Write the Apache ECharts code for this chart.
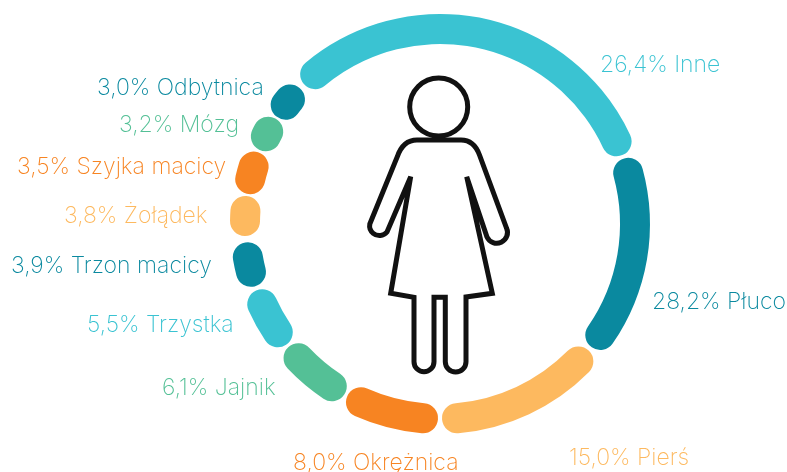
<!DOCTYPE html>
<html><head><meta charset="utf-8">
<style>html,body{margin:0;padding:0;background:#fff}#c{width:787px;height:472px}</style>
<script src="https://cdn.jsdelivr.net/npm/echarts@6/dist/echarts.min.js"></script>
</head><body><div id="c"></div>
<script>
const categories = ['Inne','Płuco','Pierś','Okrężnica','Jajnik','Trzystka','Trzon macicy','Żołądek','Szyjka macicy','Mózg','Odbytnica'];
const percentLabels = ['26,4%','28,2%','15,0%','8,0%','6,1%','5,5%','3,9%','3,8%','3,5%','3,2%','3,0%'];
// The arcs in the picture are not proportional to the printed percentages: sweep and gap read in degrees
const arcSweep = [104.7,49.9,40.2,18.9,12.8,9.4,4.4,2.9,3.8,1.5,2.0];
const arcGap = [9.9,10.1,10,9.8,9.8,10.1,10.7,9.5,9.65,9.45,0];
const colors = ['#3AC3D2','#0A899F','#FDB95F','#F78422','#54C096','#3AC3D2','#0A899F','#FDB95F','#F78422','#54C096','#0A899F'];
const labelAnchors = [[600,65],[652,302],[569,458],[293,463],[162,388],[87,325],[11,266],[64,216],[17,167],[119,125],[97,88]];

const bodyPath = 'M410.7 176.7 L387 232 A9.8 9.8 0 0 1 369.8 224 L397.3 156.7 Q403 140 417 140 L461 140 Q474 140 479.5 155 L506.5 228 A10 10 0 0 1 487 237 L466.7 176.7 L492.3 293.3 L466 297 L466 361.7 A10.3 10.3 0 0 1 445.3 361.7 L445.3 297.3 L434 297.3 L434 361.7 A10 10 0 0 1 414 361.7 L414 297.3 L390.7 293.3 Z';

const series = [];
categories.forEach((name,i)=>{
  series.push({
    type:'bar',coordinateSystem:'polar',stack:'ring',roundCap:true,name,
    barWidth:'100%',silent:true,
    itemStyle:{color:colors[i]},
    label:{show:true,position:'inside',color:colors[i],
      fontFamily:'Inter',fontWeight:200,fontSize:23,
      formatter:()=>percentLabels[i]+' '+name},
    labelLayout:()=>({x:labelAnchors[i][0],y:labelAnchors[i][1],align:'left',verticalAlign:'middle'}),
    data:[arcSweep[i]]
  });
  if(arcGap[i]>0) series.push({
    type:'bar',coordinateSystem:'polar',stack:'ring',barWidth:'100%',silent:true,
    itemStyle:{color:'transparent'},data:[arcGap[i]]
  });
});
series.push({
  type:'custom',coordinateSystem:'none',silent:true,data:[0],
  renderItem:()=>({type:'group',children:[
    {type:'circle',shape:{cx:438.7,cy:107,r:29},style:{fill:'#fff',stroke:'#111',lineWidth:5}},
    {type:'path',shape:{pathData:bodyPath},style:{fill:'#fff',stroke:'#111',lineWidth:5,lineJoin:'miter',miterLimit:8}}
  ]})
});

const chart = echarts.init(document.getElementById('c'), null, {renderer:'canvas'});
chart.setOption({
  animation:false,
  backgroundColor:'#fff',
  polar:{center:[440,224],radius:[180,210]},
  angleAxis:{type:'value',min:0,max:360,startAngle:129.8,clockwise:true,show:false},
  radiusAxis:{type:'category',data:['ring'],show:false},
  series
});
</script></body></html>
